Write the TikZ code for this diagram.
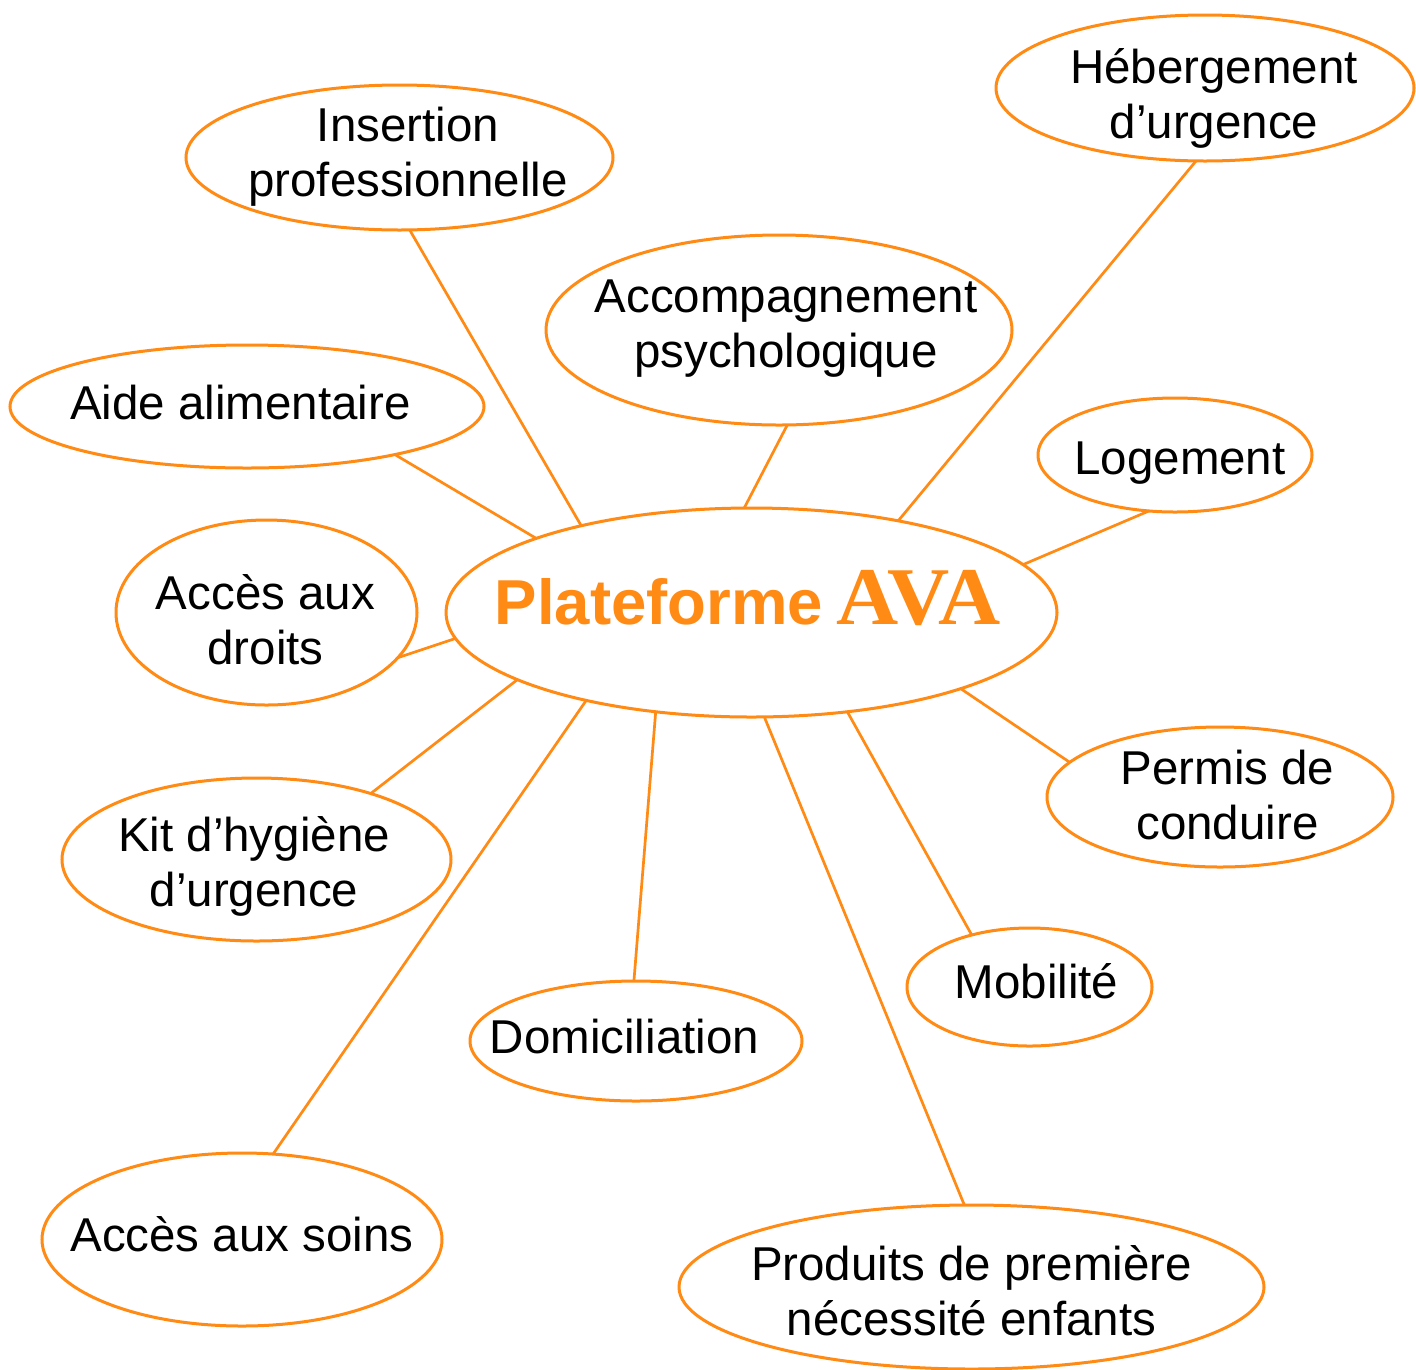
\documentclass[tikz,border=0pt]{standalone}
\usepackage{fontspec}
\setmainfont{Liberation Sans}
\newfontfamily\avafont{Liberation Serif}
\usetikzlibrary{shapes.geometric}
\definecolor{ava}{HTML}{FF8A14}
\begin{document}
\begin{tikzpicture}[x=1pt,y=-1pt,
  bub/.style={ellipse,draw=ava,line width=3pt,inner sep=0pt,outer sep=0pt},
  txt/.style={inner sep=0pt,outer sep=0pt,align=center,font=\fontsize{47.5}{55}\selectfont,text=black},
  link/.style={draw=ava,line width=2.7pt}]
\useasboundingbox (0,0) rectangle (1416,1369);
% ellipses
\node[bub,minimum width=427,minimum height=145] (ins) at (399.5,157.5) {};
\node[bub,minimum width=418,minimum height=146] (heb) at (1205,88) {};
\node[bub,minimum width=466,minimum height=190] (acc) at (779,330) {};
\node[bub,minimum width=474,minimum height=123] (aide) at (247,406.5) {};
\node[bub,minimum width=274,minimum height=114] (log) at (1175,455) {};
\node[bub,minimum width=611,minimum height=209] (pla) at (751.5,612.5) {};
\node[bub,minimum width=301,minimum height=185] (dro) at (266.5,612.5) {};
\node[bub,minimum width=346,minimum height=140] (per) at (1220,797) {};
\node[bub,minimum width=389,minimum height=163] (kit) at (256.5,859.5) {};
\node[bub,minimum width=245,minimum height=118] (mob) at (1029.5,987) {};
\node[bub,minimum width=332,minimum height=120] (dom) at (636,1041) {};
\node[bub,minimum width=400,minimum height=173] (soi) at (242,1239.5) {};
\node[bub,minimum width=585,minimum height=164] (pro) at (971.5,1287) {};
% texts
\node[txt] (ins-t) at (408,157) {Insertion\\professionnelle};
\node[txt] (heb-t) at (1214,98) {Hébergement\\d’urgence};
\node[txt] (acc-t) at (786,329) {Accompagnement\\psychologique};
\node[txt] (aide-t) at (240.5,402.5) {Aide alimentaire};
\node[txt] (log-t) at (1180,463) {Logement};
\node[inner sep=0pt,text=ava] (pla-t) at (748,598.5)
  {\fontsize{63.5}{63.5}\selectfont\bfseries Plateforme\hspace{-4pt} {\avafont\fontsize{82}{82}\selectfont\scalebox{1.05}[1]{AVA}}};
\node[txt] (dro-t) at (265.5,619.5) {Accès aux\\droits};
\node[txt] (per-t) at (1227.5,795) {Permis de\\conduire};
\node[txt] (kit-t) at (254,866.5) {Kit d’hygiène\\d’urgence};
\node[txt] (mob-t) at (1036.5,981) {Mobilité};
\node[txt] (dom-t) at (624.5,1037) {Domiciliation};
\node[txt] (soi-t) at (242,1234.5) {Accès aux soins};
\node[txt] (pro-t) at (971.5,1291) {Produits de première\\nécessité enfants};
% connectors
\draw[link] (ins.-82.6) -- (pla.153.4);
\draw[link] (heb.-97.8) -- (pla.32.8);
\draw[link] (acc.-85.8) -- (pla.94.7);
\draw[link] (aide.-18.1) -- (pla.161.6);
\draw[link] (log.-115.7) -- (pla.10.9);
\draw[link] (dro.-19.1) -- (pla.185.5);
\draw[link] (kit.30.4) -- (pla.-164.9);
\draw[link] (per.167.8) -- (pla.-20.7);
\draw[link] (mob.138.9) -- (pla.-46.5);
\draw[link] (dom.92.9) -- (pla.-134.7);
\draw[link] (soi.70.7) -- (pla.-152.0);
\draw[link] (pro.95.9) -- (pla.-83.2);
\end{tikzpicture}
\end{document}
